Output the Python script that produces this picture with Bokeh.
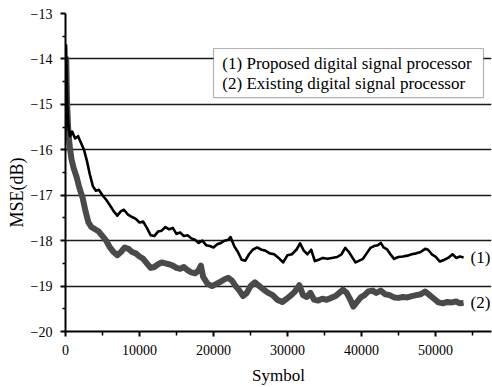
from bokeh.plotting import figure
from bokeh.models import Range1d, FixedTicker, BoxAnnotation, Label, Title
from bokeh.embed import file_html
from bokeh.resources import INLINE

# ---- data ----
c1_x = [0, 80, 150, 250, 400, 600, 900, 1300, 1700, 2100, 2500, 2900, 3300, 3700, 4100, 4500,
        5000, 5500, 6000, 6500, 7000, 7500, 7900, 8400, 9000, 9500, 10000, 10500, 11000, 11500,
        12000, 12500, 13000, 13500, 14000, 14500, 15000, 15500, 16000, 16500, 17000, 17500,
        18000, 18500, 19000, 19500, 20000, 20500, 21000, 21500, 22000, 22300, 22800, 23300,
        23800, 24300, 24800, 25300, 25900, 26500, 27000, 27600, 28200, 28800, 29400, 30000,
        30600, 31200, 31700, 32200, 32700, 33200, 33700, 34200, 34800, 35400, 36000, 36700,
        37300, 37800, 38300, 38800, 39200, 39700, 40200, 40700, 41200, 41700, 42200, 42600,
        43000, 43500, 44000, 44400, 45000, 45600, 46200, 46800, 47400, 48000, 48600, 49000,
        49500, 50000, 50600, 51200, 51700, 52300, 52800, 53300, 53800]
c1_y = [-15.6, -13.7, -14.3, -15.0, -15.5, -15.7, -15.6, -15.75, -15.7, -15.85, -16.0, -16.25,
        -16.55, -16.8, -16.9, -16.88, -17.0, -17.1, -17.22, -17.35, -17.45, -17.35, -17.32,
        -17.42, -17.48, -17.52, -17.6, -17.58, -17.72, -17.88, -17.9, -17.8, -17.78, -17.7,
        -17.75, -17.72, -17.85, -17.82, -17.9, -17.88, -17.95, -17.98, -18.05, -18.0, -18.1,
        -18.12, -18.15, -18.08, -18.05, -18.0, -17.98, -17.92, -18.12, -18.25, -18.42, -18.44,
        -18.3, -18.2, -18.15, -18.2, -18.22, -18.28, -18.3, -18.38, -18.48, -18.32, -18.3,
        -18.2, -18.06, -18.22, -18.3, -18.2, -18.45, -18.42, -18.38, -18.4, -18.38, -18.36,
        -18.3, -18.16, -18.25, -18.38, -18.48, -18.44, -18.4, -18.28, -18.16, -18.12, -18.1,
        -18.05, -18.15, -18.2, -18.32, -18.4, -18.36, -18.35, -18.33, -18.3, -18.28, -18.25,
        -18.18, -18.2, -18.3, -18.35, -18.46, -18.42, -18.38, -18.3, -18.38, -18.35, -18.37]

c2_x = [0, 100, 200, 350, 550, 800, 1100, 1500, 1900, 2300, 2700, 3100, 3500, 4000, 4500,
        5000, 5500, 6000, 6500, 7000, 7500, 8000, 8500, 9000, 9500, 10000, 10500, 11000,
        11500, 12000, 12500, 13000, 13500, 14000, 14500, 15000, 15500, 16000, 16500, 17000,
        17500, 18000, 18300, 18600, 19200, 19800, 20400, 21000, 21500, 22000, 22500, 23000,
        23500, 24000, 24500, 25000, 25600, 26200, 26800, 27400, 28000, 28600, 29300, 29900,
        30500, 31000, 31600, 32100, 32600, 33100, 33600, 34100, 34700, 35300, 35900, 36500,
        37000, 37500, 38000, 38500, 38900, 39400, 39900, 40400, 40900, 41500, 42000, 42600,
        43200, 43800, 44400, 45000, 45600, 46200, 46800, 47400, 48000, 48600, 49200, 49800,
        50400, 51000, 51600, 52200, 52800, 53300, 53800]
c2_y = [-15.6, -14.0, -14.9, -15.5, -15.9, -16.2, -16.4, -16.6, -16.85, -17.05, -17.35, -17.6,
        -17.7, -17.75, -17.8, -17.9, -18.0, -18.15, -18.25, -18.32, -18.25, -18.15, -18.18,
        -18.25, -18.28, -18.35, -18.4, -18.5, -18.6, -18.58, -18.52, -18.48, -18.5, -18.52,
        -18.55, -18.6, -18.62, -18.58, -18.65, -18.7, -18.72, -18.65, -18.55, -18.8, -18.95,
        -19.0, -18.95, -18.9, -18.85, -18.82, -18.88, -19.0, -19.1, -19.22, -19.15, -19.0,
        -18.92, -19.0, -19.08, -19.15, -19.2, -19.3, -19.35, -19.28, -19.2, -19.12, -18.98,
        -19.2, -19.24, -19.15, -19.3, -19.32, -19.28, -19.3, -19.26, -19.22, -19.15, -19.08,
        -19.15, -19.3, -19.45, -19.35, -19.25, -19.2, -19.12, -19.1, -19.15, -19.1, -19.18,
        -19.2, -19.25, -19.26, -19.24, -19.25, -19.22, -19.2, -19.18, -19.12, -19.2, -19.28,
        -19.36, -19.38, -19.35, -19.36, -19.34, -19.38, -19.37]

y_ticks = [-20, -19, -18, -17, -16, -15, -14, -13]
grid_levels = [-19, -18, -17, -16, -15, -14]
x_ticks = [0, 10000, 20000, 30000, 40000, 50000]
legend_lines = ["(1) Proposed digital signal processor", "(2) Existing digital signal processor"]
end_labels = ["(1)", "(2)"]
y_title = "MSE(dB)"
x_title = "Symbol"

SERIF = "serif"

p = figure(width=492, height=387, output_backend="svg", toolbar_location=None,
           x_range=Range1d(0, 57570), y_range=Range1d(-20, -13),
           min_border_left=65, min_border_right=1, min_border_top=13, min_border_bottom=56)
p.outline_line_color = None
p.background_fill_color = "white"

p.xgrid.visible = False
p.ygrid.ticker = FixedTicker(ticks=grid_levels)
p.ygrid.grid_line_color = "#1a1a1a"
p.ygrid.grid_line_width = 1.6

p.yaxis.ticker = FixedTicker(ticks=y_ticks, minor_ticks=[v + 0.5 for v in y_ticks[:-1]])
p.xaxis.ticker = FixedTicker(ticks=x_ticks, minor_ticks=[5000, 15000, 25000, 35000, 45000, 55000])

for ax in (p.xaxis[0], p.yaxis[0]):
    ax.axis_line_color = "black"
    ax.axis_line_width = 2
    ax.major_tick_line_color = "black"
    ax.minor_tick_line_color = "black"
    ax.major_tick_line_width = 2
    ax.minor_tick_line_width = 1.5
    ax.major_tick_in = 0
    ax.minor_tick_in = 0
    ax.major_tick_out = 5
    ax.minor_tick_out = 3
    ax.major_label_text_font = SERIF
    ax.major_label_text_font_size = "14px"
    ax.major_label_text_color = "black"
    ax.axis_label_text_font = SERIF
    ax.axis_label_text_font_size = "17px"
    ax.axis_label_text_font_style = "normal"
    ax.axis_label_text_color = "black"

p.xaxis.minor_tick_out = 4
p.yaxis.major_label_standoff = 8
p.xaxis.major_label_standoff = 8
p.xaxis.axis_label = x_title
p.xaxis.axis_label_standoff = 8

p.line(c2_x, c2_y, line_color="#4a4a4a", line_width=6, line_join="round")
p.line(c1_x, c1_y, line_color="black", line_width=2.6, line_join="round")

# y-axis title as a side title, positioned lower than centre as in the reference
p.add_layout(Title(text=y_title, text_font=SERIF, text_font_size="18px",
                   text_font_style="normal", text_color="black", align="left",
                   offset=104, standoff=2), "left")

box = BoxAnnotation(left=20000, right=56490, top=-13.77, bottom=-14.85,
                    fill_color="white", fill_alpha=1.0, line_color="black", line_width=1.2,
                    level="overlay")
p.add_layout(box)
for i, txt in enumerate(legend_lines):
    p.add_layout(Label(x=21200, y=[-14.1, -14.54][i], text=txt, text_font=SERIF,
                       text_font_size="17px", text_baseline="middle", text_color="black",
                       level="overlay"))

p.add_layout(Label(x=56080, y=-18.38, text=end_labels[0], text_font=SERIF, text_font_size="17px",
                   text_baseline="middle", text_align="center", text_color="black"))
p.add_layout(Label(x=56080, y=-19.36, text=end_labels[1], text_font=SERIF, text_font_size="17px",
                   text_baseline="middle", text_align="center", text_color="black"))

open("out.html", "w").write(file_html(p, INLINE))
